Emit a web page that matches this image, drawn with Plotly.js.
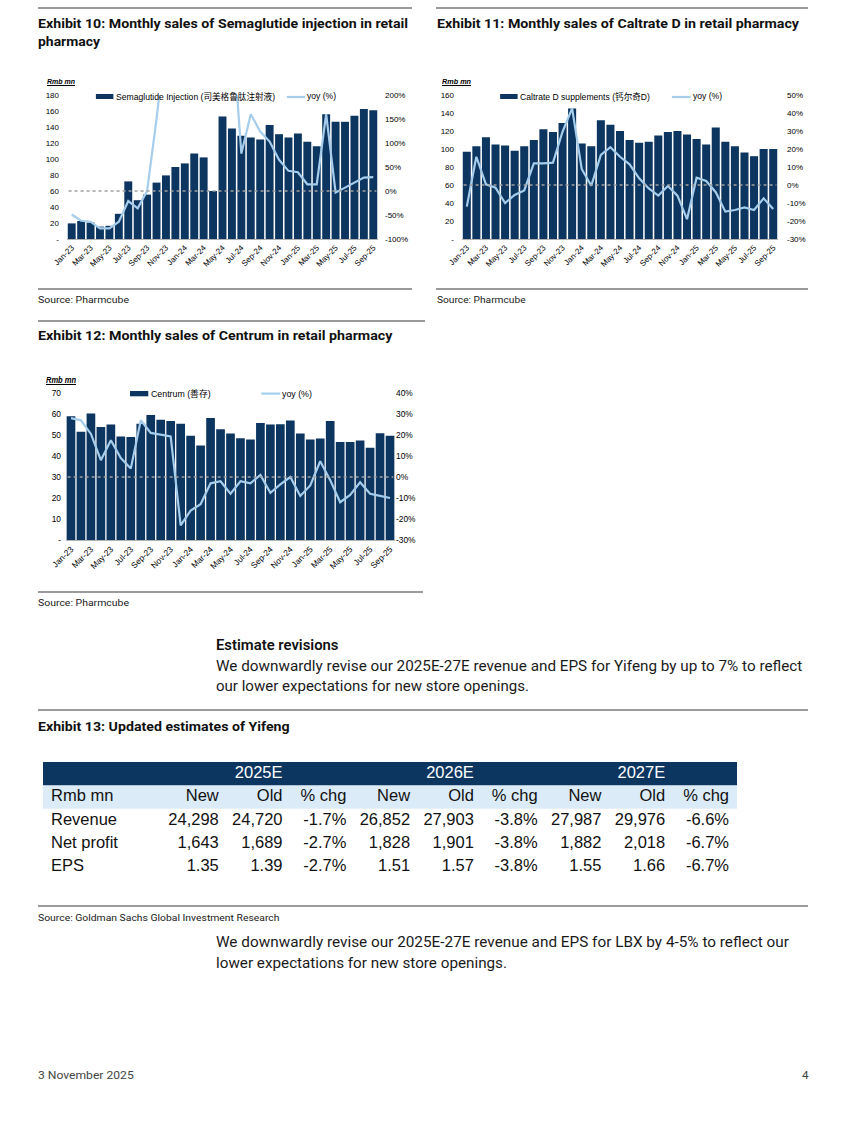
<!DOCTYPE html>
<html><head><meta charset="utf-8">
<script src="https://cdn.plot.ly/plotly-3.0.1.min.js"></script>
<style>
html,body{margin:0;padding:0;background:#fff;}
body{width:844px;height:1122px;position:relative;overflow:hidden;font-family:Roboto,'Noto Sans',sans-serif;color:#1a1a1a;}
.t{position:absolute;white-space:nowrap;line-height:1;transform-origin:0 50%;}
.b{font-weight:700;color:#111;}
.rmb{font-family:'Liberation Sans',Arial,sans-serif;font-weight:700;font-style:italic;text-decoration:underline;color:#000;}
.rule{position:absolute;height:2px;background:#9b9b9b;}
.chart{position:absolute;}
</style></head><body>

<div class="rule" style="left:38px;top:7px;width:374px"></div>
<div class="rule" style="left:436px;top:7px;width:372px"></div>
<span class="t b" style="left:38px;top:17px;font-size:13px" data-w="370">Exhibit 10: Monthly sales of Semaglutide injection in retail</span>
<span class="t b" style="left:38px;top:35px;font-size:13px" data-w="62">pharmacy</span>
<span class="t b" style="left:436.5px;top:17px;font-size:13px" data-w="362">Exhibit 11: Monthly sales of Caltrate D in retail pharmacy</span>

<span class="t rmb" style="left:47px;top:77.5px;font-size:8px" data-w="28">Rmb mn</span>
<span class="t rmb" style="left:442px;top:77.5px;font-size:8px" data-w="29">Rmb mn</span>

<div id="c1" class="chart"></div>
<div id="c2" class="chart"></div>

<div class="rule" style="left:38px;top:288px;width:374px"></div>
<div class="rule" style="left:436px;top:288px;width:372px"></div>
<span class="t" style="left:38px;top:295px;font-size:9.5px" data-w="91">Source: Pharmcube</span>
<span class="t" style="left:436.5px;top:295px;font-size:9.5px" data-w="88.6">Source: Pharmcube</span>

<div class="rule" style="left:38px;top:320px;width:387px"></div>
<span class="t b" style="left:38px;top:329px;font-size:13px" data-w="354.4">Exhibit 12: Monthly sales of Centrum in retail pharmacy</span>
<span class="t rmb" style="left:46.3px;top:375.5px;font-size:8.5px" data-w="30">Rmb mn</span>
<div id="c3" class="chart"></div>
<div class="rule" style="left:38px;top:591px;width:385px"></div>
<span class="t" style="left:38px;top:598px;font-size:9.5px" data-w="91">Source: Pharmcube</span>

<span class="t" style="left:216.2px;top:637.6px;font-size:14px;font-weight:600;color:#111" data-w="122.5">Estimate revisions</span>
<span class="t" style="left:216.2px;top:658.6px;font-size:14px" data-w="586.3">We downwardly revise our 2025E-27E revenue and EPS for Yifeng by up to 7% to reflect</span>
<span class="t" style="left:216.2px;top:678.6px;font-size:14px" data-w="312.9">our lower expectations for new store openings.</span>

<div class="rule" style="left:38px;top:709px;width:770px"></div>
<span class="t b" style="left:38px;top:720.1px;font-size:13px" data-w="251.6">Exhibit 13: Updated estimates of Yifeng</span>

<div id="tbl" class="chart"></div>

<div class="rule" style="left:38px;top:905px;width:770px"></div>
<span class="t" style="left:38px;top:912.5px;font-size:9.5px" data-w="241.5">Source: Goldman Sachs Global Investment Research</span>
<span class="t" style="left:216.2px;top:934.6px;font-size:14px" data-w="573">We downwardly revise our 2025E-27E revenue and EPS for LBX by 4-5% to reflect our</span>
<span class="t" style="left:216.2px;top:955.6px;font-size:14px" data-w="291">lower expectations for new store openings.</span>

<span class="t" style="left:38px;top:1070px;font-size:11.5px;color:#444" data-w="95.7">3 November 2025</span>
<span class="t" style="left:802px;top:1070px;font-size:11.5px;color:#444" data-w="6.6">4</span>

<script>
// ---------------- DATA ----------------
const months = ['Jan-23','Feb-23','Mar-23','Apr-23','May-23','Jun-23','Jul-23','Aug-23','Sep-23','Oct-23','Nov-23','Dec-23',
  'Jan-24','Feb-24','Mar-24','Apr-24','May-24','Jun-24','Jul-24','Aug-24','Sep-24','Oct-24','Nov-24','Dec-24',
  'Jan-25','Feb-25','Mar-25','Apr-25','May-25','Jun-25','Jul-25','Aug-25','Sep-25'];
const tickMonths = months.filter((m, i) => i % 2 === 0);

const yoyName = 'yoy (%)';

// Exhibit 10: Semaglutide injection (Rmb mn) and yoy (%)
const semaName = 'Semaglutide Injection (司美格鲁肽注射液)';
const semaSales = [19.5,22.5,20.5,15.5,16.5,31.5,72,48.5,55.5,70.5,79.5,90,94.5,107,102,60,153,138,129,127,124.5,142.5,131,127,132,121.5,116,156,146.5,146.5,154,162.5,161];
const semaYoY = [-49,-62,-64,-78,-78,-64,-21,-36,0,150,320,420,450,480,420,280,800,350,78,160,124,103,65,42,39,14,14,160,-3,7,18,28,29];
const semaLeftTicks = [0,20,40,60,80,100,120,140,160,180];
const semaLeftText = ['-','20','40','60','80','100','120','140','160','180'];
const semaRightTicks = [-100,-50,0,50,100,150,200];
const semaRightText = ['-100%','-50%','0%','50%','100%','150%','200%'];

// Exhibit 11: Caltrate D (Rmb mn) and yoy (%)
const caltName = 'Caltrate D supplements (钙尔奇D)';
const caltSales = [97,103,113,105,104,98,103,110,122,119,129,145,106,103,132,127,120,110,107,108,115,119,120,116,111,105,124,108,103,96,92,100,100];
const caltYoY = [-12,15.7,0.4,-1.5,-10,-5.5,-3,12,12,12.4,29.6,42.6,8.9,-0.4,16.7,21,15.7,11.5,3.7,-1.9,-5.9,-0.6,-5.9,-19,4,2.2,-4,-14.8,-13.9,-12.4,-13.9,-7.4,-13.3];
const caltLeftTicks = [0,20,40,60,80,100,120,140,160];
const caltLeftText = ['-','20','40','60','80','100','120','140','160'];
const caltRightTicks = [-30,-20,-10,0,10,20,30,40,50];
const caltRightText = ['-30%','-20%','-10%','0%','10%','20%','30%','40%','50%'];

// Exhibit 12: Centrum (Rmb mn) and yoy (%)
const centName = 'Centrum (善存)';
const centSales = [58.9,51.5,60.2,53.8,55,49.3,49.1,55.4,59.5,57.3,56.7,55.4,49.6,45,58.1,52.7,50.7,48.5,47.8,55.7,55,55.1,56.9,50.7,47.8,48.3,56.7,46.7,46.7,47.4,43.9,50.8,49.7];
const centYoY = [28,27,20.5,8,17.5,9,4,27,21,20,19.3,-23,-16,-13,-3,-2,-8,-2,-3,1,-7.5,-3.5,0,-9,-4,7.5,-1.5,-12,-8.5,-2.5,-8,-9,-10];
const centLeftTicks = [0,10,20,30,40,50,60,70];
const centLeftText = ['-','10','20','30','40','50','60','70'];
const centRightTicks = [-30,-20,-10,0,10,20,30,40];
const centRightText = ['-30%','-20%','-10%','0%','10%','20%','30%','40%'];

// Exhibit 13: Updated estimates of Yifeng
const tblYears = ['2025E','2026E','2027E'];
const tblSubHeader = ['Rmb mn','New','Old','% chg','New','Old','% chg','New','Old','% chg'];
const tblRowLabels = ['Revenue','Net profit','EPS'];
const tblRevenue = ['24,298','24,720','-1.7%','26,852','27,903','-3.8%','27,987','29,976','-6.6%'];
const tblNetProfit = ['1,643','1,689','-2.7%','1,828','1,901','-3.8%','1,882','2,018','-6.7%'];
const tblEPS = ['1.35','1.39','-2.7%','1.51','1.57','-3.8%','1.55','1.66','-6.7%'];

// ---------------- STYLE ----------------
const FONT = "'Liberation Sans', Arial, 'Noto Sans CJK SC', sans-serif";
const NAVY = '#0c355f';
const LIGHTBLUE_LINE = '#a6cdec';
const TABLE_LIGHT = '#dcebf8';
const CONFIG = {staticPlot: true, displayModeBar: false};

function drawChart(id, g, barName, bars, yoy, lt, ltx, rt, rtx, leg) {
  const el = document.getElementById(id);
  el.style.left = g.left + 'px'; el.style.top = g.top + 'px';
  el.style.width = g.width + 'px'; el.style.height = g.height + 'px';
  const pw = g.px1 - g.px0, ph = g.py1 - g.py0;
  const X = p => (p - g.px0) / pw;
  const Y = p => (g.py1 - p) / ph;
  const tf = {family: FONT, size: g.tf, color: '#000'};
  const lf = {family: FONT, size: g.lf, color: '#000'};
  const traces = [
    {type: 'bar', x: months, y: bars, name: barName, marker: {color: NAVY, line: {width: 0}}, hoverinfo: 'skip'},
    {type: 'scatter', mode: 'lines', x: months, y: yoy, name: yoyName, yaxis: 'y2',
     line: {color: LIGHTBLUE_LINE, width: 2.2}, hoverinfo: 'skip'}
  ];
  const layout = {
    width: g.width, height: g.height,
    margin: {l: g.px0 - g.left, r: g.left + g.width - g.px1, t: g.py0 - g.top, b: g.top + g.height - g.py1, pad: 0},
    paper_bgcolor: 'rgba(0,0,0,0)', plot_bgcolor: '#fff',
    showlegend: false, bargap: g.bargap,
    xaxis: {type: 'category', range: [-0.5, months.length - 0.5], tickmode: 'array', tickvals: tickMonths, ticktext: tickMonths,
            tickangle: -45, tickfont: tf, showline: true, linecolor: '#b3b3b3', linewidth: 1, ticks: '',
            showgrid: false, zeroline: false, fixedrange: true},
    yaxis: {range: [lt[0], lt[lt.length - 1]], tickmode: 'array', tickvals: lt, ticktext: ltx, tickfont: tf,
            showgrid: false, zeroline: false, showline: false, ticks: '', ticklabelstandoff: g.ls, fixedrange: true},
    yaxis2: {overlaying: 'y', side: 'right', range: [rt[0], rt[rt.length - 1]], tickmode: 'array', tickvals: rt, ticktext: rtx,
             tickfont: tf, showgrid: false, zeroline: false, showline: false, ticks: '', ticklabelstandoff: g.rs, fixedrange: true},
    shapes: [
      {type: 'line', xref: 'paper', x0: 0.005, x1: 0.995, yref: 'y2', y0: 0, y1: 0, line: {color: '#a0a0a0', width: 1.5, dash: 'dot'}},
      {type: 'rect', xref: 'paper', yref: 'paper', x0: X(leg.r0), x1: X(leg.r1), y0: Y(leg.ry1), y1: Y(leg.ry0), fillcolor: NAVY, line: {width: 0}},
      {type: 'line', xref: 'paper', yref: 'paper', x0: X(leg.l0), x1: X(leg.l1), y0: Y(leg.ly), y1: Y(leg.ly), line: {color: LIGHTBLUE_LINE, width: 2.2}}
    ],
    annotations: [
      {xref: 'paper', yref: 'paper', x: X(leg.t1), y: Y(leg.ty), text: barName, showarrow: false, xanchor: 'left', yanchor: 'middle', font: lf, borderpad: 0},
      {xref: 'paper', yref: 'paper', x: X(leg.t2), y: Y(leg.ty), text: yoyName, showarrow: false, xanchor: 'left', yanchor: 'middle', font: lf, borderpad: 0}
    ]
  };
  Plotly.newPlot(el, traces, layout, CONFIG);
}

drawChart('c1', {left: 38, top: 75, width: 380, height: 210, px0: 66.6, px1: 377.7, py0: 95, py1: 239, tf: 8, lf: 8.6, ls: 7, rs: 6, bargap: 0.16},
  semaName, semaSales, semaYoY, semaLeftTicks, semaLeftText, semaRightTicks, semaRightText,
  {r0: 95.5, r1: 113, ry0: 94, ry1: 99, t1: 114.5, l0: 286.5, l1: 305, ly: 97, t2: 306, ty: 96.5});

drawChart('c2', {left: 430, top: 75, width: 380, height: 210, px0: 461.9, px1: 777.8, py0: 95, py1: 239, tf: 8, lf: 8.6, ls: 7, rs: 8, bargap: 0.16},
  caltName, caltSales, caltYoY, caltLeftTicks, caltLeftText, caltRightTicks, caltRightText,
  {r0: 500, r1: 517.5, ry0: 94, ry1: 99, t1: 519, l0: 671.7, l1: 690.5, ly: 97, t2: 691.5, ty: 96.5});

drawChart('c3', {left: 38, top: 370, width: 390, height: 215, px0: 65.7, px1: 394.7, py0: 392.7, py1: 540, tf: 8.4, lf: 8.8, ls: 4, rs: 4.5, bargap: 0.13},
  centName, centSales, centYoY, centLeftTicks, centLeftText, centRightTicks, centRightText,
  {r0: 129.7, r1: 148, ry0: 390.7, ry1: 396, t1: 149.5, l0: 261, l1: 280, ly: 393.3, t2: 281, ty: 393.3});

// ---------------- TABLE ----------------
(function () {
  const T = {left: 43, top: 762, width: 694, height: 117, labelW: 120, pad: 8, fs: 16.5};
  const el = document.getElementById('tbl');
  el.style.left = T.left + 'px'; el.style.top = T.top + 'px';
  el.style.width = T.width + 'px'; el.style.height = T.height + 'px';
  const nVal = tblSubHeader.length - 1;
  const colW = (T.width - T.labelW) / nVal;
  const rightEdge = j => T.labelW + colW * (j + 1); // j = value column index
  const dataRows = [tblRevenue, tblNetProfit, tblEPS];

  // label column
  const labX = [], labY = [], labT = [];
  [tblSubHeader[0]].concat(tblRowLabels).forEach((s, r) => { labX.push(T.pad); labY.push(r + 1.5); labT.push(s); });
  // value columns
  const vX = [], vY = [], vT = [];
  for (let j = 0; j < nVal; j++) {
    const col = [tblSubHeader[j + 1]].concat(dataRows.map(row => row[j]));
    col.forEach((s, r) => { vX.push(rightEdge(j) - T.pad); vY.push(r + 1.5); vT.push(s); });
  }
  // year headers centred over 3-column groups
  const yX = tblYears.map((y, k) => T.labelW + colW * (3 * k + 1.5));
  const yY = tblYears.map(() => 0.5);
  const tfont = {family: FONT, size: T.fs, color: '#111'};
  const traces = [
    {type: 'scatter', mode: 'text', x: labX, y: labY, text: labT, textposition: 'middle right', textfont: tfont, cliponaxis: false, hoverinfo: 'skip'},
    {type: 'scatter', mode: 'text', x: vX, y: vY, text: vT, textposition: 'middle left', textfont: tfont, cliponaxis: false, hoverinfo: 'skip'},
    {type: 'scatter', mode: 'text', x: yX, y: yY, text: tblYears, textposition: 'middle center', textfont: {family: FONT, size: T.fs, color: '#fff'}, cliponaxis: false, hoverinfo: 'skip'}
  ];
  const layout = {
    width: T.width, height: T.height, margin: {l: 0, r: 0, t: 0, b: 0, pad: 0},
    paper_bgcolor: 'rgba(0,0,0,0)', plot_bgcolor: 'rgba(0,0,0,0)', showlegend: false,
    xaxis: {range: [0, T.width], visible: false, fixedrange: true},
    yaxis: {range: [5, 0], visible: false, fixedrange: true},
    shapes: [
      {type: 'rect', layer: 'below', xref: 'paper', x0: 0, x1: 1, yref: 'y', y0: 0, y1: 1, fillcolor: NAVY, line: {width: 0}},
      {type: 'rect', layer: 'below', xref: 'paper', x0: 0, x1: 1, yref: 'y', y0: 1, y1: 2, fillcolor: TABLE_LIGHT, line: {width: 0}}
    ]
  };
  Plotly.newPlot(el, traces, layout, CONFIG);
})();

// ---------------- fit HTML text widths ----------------
function fit() {
  document.querySelectorAll('[data-w]').forEach(el => {
    el.style.transform = 'none';
    const w = el.getBoundingClientRect().width;
    const t = parseFloat(el.dataset.w);
    if (w > 0) el.style.transform = 'scaleX(' + (t / w) + ')';
  });
}
fit();
if (document.fonts && document.fonts.ready) document.fonts.ready.then(fit);
</script>
</body></html>
